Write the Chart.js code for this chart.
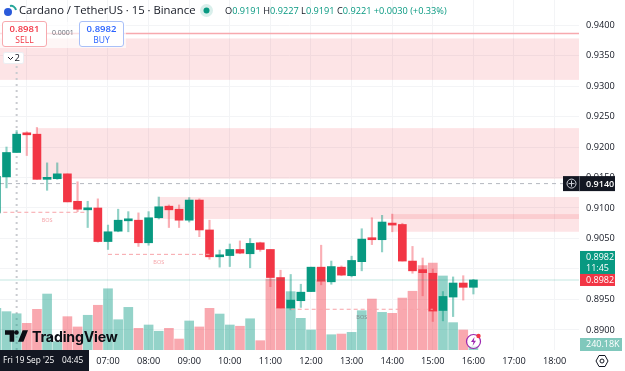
<!DOCTYPE html>
<html>
<head>
<meta charset="utf-8">
<title>Cardano / TetherUS</title>
<script src="https://cdn.jsdelivr.net/npm/chart.js@4"></script>
<style>
    html, body { margin: 0; padding: 0; background: #fff; }
    #wrap { position: relative; width: 625px; height: 371px; overflow: hidden; font-family: "Open Sans", sans-serif; color: #131722; }
    #wrap > * { position: absolute; }
    canvas { left: 0; top: 0; }
    .title { left: 19px; top: 1px; font-size: 11.3px; line-height: 17px; white-space: nowrap; }
    .ohlc { left: 225px; top: 2px; font-size: 9.2px; line-height: 17px; white-space: nowrap; }
    .ohlc b { font-weight: 400; color: #089981; }
    .panel { left: 0; top: 22px; width: 126px; height: 26px; background: rgba(255, 255, 255, 0.65); }
    .btn { top: 21px; width: 43px; height: 23px; background: #fff; border-radius: 3px; text-align: center; font-size: 8.5px; line-height: 10px; padding-top: 1px; box-sizing: content-box; }
    .btn div:first-child { font-size: 9.5px; line-height: 12px; font-weight: 600; }
    .sell { left: 2px; border: 1px solid #f7a9ae; color: #f23645; }
    .buy { left: 79px; border: 1px solid #a9c0f8; color: #2962ff; }
    .spread { left: 52px; top: 28px; font-size: 7px; line-height: 10px; color: #6a6d78; }
    .legendBtn { left: 3px; top: 52px; width: 21px; height: 12px; background: #fff; border: 1px solid #eceef2; box-sizing: border-box; border-radius: 2px; font-size: 9.5px; line-height: 10px; text-align: right; padding-right: 3px; }
    .wm { left: 32px; top: 327px; font-size: 14.2px; line-height: 20px; font-weight: 700; letter-spacing: -0.2px; color: #0c0e15; font-family: "Inter", sans-serif; }
</style>
</head>
<body>
<div id="wrap">
    <canvas id="chart" width="625" height="371"></canvas>

    <svg style="left:2px;top:3px" width="16" height="15" viewBox="0 0 16 15">
        <circle cx="6" cy="9" r="4" fill="#2a5ada"/>
        <path d="M8 3 a5 5 0 0 1 6 4" fill="none" stroke="#26a69a" stroke-width="2"/>
    </svg>
    <div class="title">Cardano / TetherUS · 15 · Binance</div>
    <svg style="left:200px;top:4px" width="13" height="13" viewBox="0 0 13 13">
        <circle cx="6.5" cy="6.5" r="6.5" fill="#d9efeb"/>
        <circle cx="6.5" cy="6.5" r="3" fill="#089981"/>
    </svg>
    <div class="ohlc">O<b>0.9191</b> H<b>0.9227</b> L<b>0.9191</b> C<b>0.9221</b> <b>+0.0030 (+0.33%)</b></div>

    <div class="panel"></div>
    <div class="btn sell"><div>0.8981</div><div>SELL</div></div>
    <div class="spread">0.0001</div>
    <div class="btn buy"><div>0.8982</div><div>BUY</div></div>
    <div class="legendBtn">2</div>
    <svg style="left:7px;top:56px" width="7" height="5" viewBox="0 0 7 5"><path d="M1 1 L3.5 3.5 L6 1" fill="none" stroke="#131722" stroke-width="1"/></svg>

    <svg style="left:5px;top:330px" width="23" height="12" viewBox="2 6 30 15">
        <path d="M14 6H2v6h6v9h6V6zm12 15h-7l6-15h7l-6 15zm-9-9a3 3 0 1 0 0-6 3 3 0 0 0 0 6z" fill="#0c0e15"/>
    </svg>
    <div class="wm">TradingView</div>

    <svg style="left:464px;top:332px" width="20" height="18" viewBox="0 0 20 18">
        <circle cx="9.5" cy="9.5" r="7" fill="#fff" fill-opacity="0.7" stroke="#9c27b0" stroke-width="1.2"/>
        <path d="M10.5 5 L7 10 H9.5 L8.5 14 L12 8.8 H9.8 Z" fill="#9c27b0"/>
        <circle cx="14.5" cy="4" r="2.2" fill="#f23645"/>
    </svg>
    <svg style="left:595px;top:354px" width="14" height="14" viewBox="0 0 14 14">
        <path d="M4 1.5 H10 L13 7 L10 12.5 H4 L1 7 Z" fill="none" stroke="#131722" stroke-width="1"/>
        <circle cx="7" cy="7" r="2" fill="none" stroke="#131722" stroke-width="1"/>
    </svg>
</div>

<script>
const times = ['04:15','04:30','04:45','05:00','05:15','05:30','05:45','06:00','06:15','06:30','06:45',
    '07:00','07:15','07:30','07:45','08:00','08:15','08:30','08:45','09:00','09:15','09:30','09:45',
    '10:00','10:15','10:30','10:45','11:00','11:15','11:30','11:45','12:00','12:15','12:30','12:45',
    '13:00','13:15','13:30','13:45','14:00','14:15','14:30','14:45','15:00','15:15','15:30','15:45','16:00'];
const opens = [0.9092,0.9151,0.9191,0.9223,0.9221,0.9147,0.9148,0.9156,0.9111,0.9097,0.9100,
    0.9045,0.9062,0.9079,0.9080,0.9043,0.9084,0.9103,0.9098,0.9080,0.9113,0.9064,0.9020,
    0.9022,0.9032,0.9025,0.9043,0.9032,0.8986,0.8936,0.8948,0.8963,0.9003,0.8979,0.9003,
    0.8989,0.9012,0.9050,0.9048,0.9075,0.9073,0.9013,0.8999,0.8993,0.8932,0.8954,0.8977,0.8970];
const highs = [0.9155,0.9200,0.9227,0.9225,0.9232,0.9174,0.9174,0.9156,0.9143,0.9111,0.9115,
    0.9072,0.9098,0.9094,0.9092,0.9094,0.9118,0.9105,0.9105,0.9117,0.9115,0.9080,0.9031,
    0.9041,0.9046,0.9050,0.9044,0.9032,0.8998,0.8991,0.8975,0.9003,0.9039,0.9013,0.9005,
    0.9021,0.9066,0.9084,0.9088,0.9090,0.9075,0.9037,0.9018,0.9000,0.8963,0.8987,0.8989,0.8983];
const lows = [0.9092,0.9133,0.9191,0.9186,0.9147,0.9129,0.9147,0.9110,0.9094,0.9068,0.9044,
    0.9032,0.9061,0.9061,0.9037,0.9039,0.9082,0.9068,0.9068,0.9077,0.9053,0.9016,0.9003,
    0.9004,0.9025,0.9002,0.9029,0.8971,0.8936,0.8933,0.8937,0.8963,0.8974,0.8975,0.8989,
    0.8987,0.8997,0.9040,0.9028,0.9061,0.9013,0.8993,0.8956,0.8914,0.8915,0.8922,0.8949,0.8959];
const closes = [0.9152,0.9191,0.9221,0.9220,0.9147,0.9148,0.9156,0.9110,0.9098,0.9100,0.9045,
    0.9061,0.9080,0.9080,0.9043,0.9084,0.9102,0.9097,0.9080,0.9113,0.9064,0.9020,0.9023,
    0.9032,0.9026,0.9042,0.9032,0.8986,0.8936,0.8949,0.8962,0.9003,0.8980,0.9004,0.8990,
    0.9014,0.9049,0.9048,0.9077,0.9072,0.9013,0.8997,0.8994,0.8931,0.8955,0.8977,0.8970,0.8982];
// volume in thousands
const volumes = [3000,2760,2610,1920,2930,4030,600,2400,1660,2500,3220,
    4410,2180,3070,1560,1800,1350,1560,790,2090,1660,3000,2590,
    1800,1710,2250,670,5110,3020,4200,2280,1440,4970,1100,1150,1270,
    2830,3670,2710,2640,3740,4230,6070,6260,5330,1970,1440,240.18];

// [from, to, low, high], times in hh:mm, 'end' runs to the right edge
const zones = [
    ['04:00', 'end', 0.9310, 0.9378],
    ['05:15', 'end', 0.9148, 0.9231],
    ['08:15', 'end', 0.9082, 0.9118],
    ['14:00', 'end', 0.9061, 0.9090]
];
// [from, to, price, label time, label colour]
const bosLines = [
    ['04:15', '06:30', 0.9093, '05:30', '#f5a3a8'],
    ['07:00', '09:30', 0.9024, '08:15', '#f5a3a8'],
    ['11:30', '15:00', 0.8934, '13:15', '#7f8a8c']
];
const topLinePrice = 0.9386;
const crossPrice = 0.9140;
const crossTime = '04:45';
const lastPrice = 0.8982;
const askLabel = '0.8982';
const countdown = '11:45';
const bidLabel = '0.8982';
const volLabel = '240.18K';
const crossDate = "Fri 19 Sep '25";

const UP = '#089981';
const DOWN = '#f23645';
const FONT = '"Open Sans", sans-serif';

function hours(t) {
    const p = t.split(':');
    return Number(p[0]) + Number(p[1]) / 60;
}
function hhmm(v) {
    return String(v).padStart(2, '0') + ':00';
}

const isUp = closes.map((c, i) => c >= opens[i]);

const overlay = {
    id: 'overlay',
    beforeDatasetsDraw(chart) {
        const c = chart.ctx, x = chart.scales.x, y = chart.scales.y, a = chart.chartArea;
        c.save();
        // supply / demand zones
        c.fillStyle = 'rgba(242, 54, 69, 0.135)';
        zones.forEach(z => {
            const x0 = Math.max(x.getPixelForValue(hours(z[0])), a.left);
            const x1 = z[1] === 'end' ? a.right : x.getPixelForValue(hours(z[1]));
            const y0 = y.getPixelForValue(z[3]), y1 = y.getPixelForValue(z[2]);
            c.fillRect(x0, y0, x1 - x0, y1 - y0);
        });

        // crosshair sits under the candles
        c.strokeStyle = '#b4b7bf';
        c.lineWidth = 1;
        c.setLineDash([4, 4]);
        c.beginPath();
        c.moveTo(a.left, y.getPixelForValue(crossPrice));
        c.lineTo(a.right, y.getPixelForValue(crossPrice));
        c.stroke();
        c.strokeStyle = '#c9cbd0';
        c.lineWidth = 2;
        c.setLineDash([2, 4]);
        c.beginPath();
        c.moveTo(x.getPixelForValue(hours(crossTime)), 66);
        c.lineTo(x.getPixelForValue(hours(crossTime)), a.bottom);
        c.stroke();
        c.setLineDash([]);
        c.restore();
    },
    afterDatasetsDraw(chart) {
        const c = chart.ctx, x = chart.scales.x, y = chart.scales.y, a = chart.chartArea;
        c.save();
        c.beginPath();
        c.rect(a.left, a.top, a.right - a.left, a.bottom - a.top);
        c.clip();

        // top red level
        c.strokeStyle = '#f7a9ae';
        c.lineWidth = 1.5;
        c.beginPath();
        c.moveTo(a.left, y.getPixelForValue(topLinePrice));
        c.lineTo(a.right, y.getPixelForValue(topLinePrice));
        c.stroke();

        // last price line
        c.strokeStyle = 'rgba(8, 153, 129, 0.16)';
        c.lineWidth = 1.5;
        c.beginPath();
        c.moveTo(a.left, y.getPixelForValue(lastPrice));
        c.lineTo(a.right, y.getPixelForValue(lastPrice));
        c.stroke();

        // BOS lines and labels
        bosLines.forEach(b => {
            const py = y.getPixelForValue(b[2]);
            c.strokeStyle = '#f7a3a8';
            c.lineWidth = 1;
            c.setLineDash([4, 3]);
            c.beginPath();
            c.moveTo(x.getPixelForValue(hours(b[0])), py);
            c.lineTo(x.getPixelForValue(hours(b[1])), py);
            c.stroke();
            c.setLineDash([]);
            c.fillStyle = b[4];
            c.font = '5.5px ' + FONT;
            c.textAlign = 'center';
            c.textBaseline = 'middle';
            c.fillText('BOS', x.getPixelForValue(hours(b[3])), py + 8);
        });
        c.restore();
    },
    afterDraw(chart) {
        const c = chart.ctx, y = chart.scales.y, a = chart.chartArea;
        c.save();
        c.textBaseline = 'middle';

        // crosshair price tag
        const cy = y.getPixelForValue(crossPrice);
        c.fillStyle = '#131722';
        c.fillRect(563, cy - 7.5, 52, 15);
        c.strokeStyle = '#5d606b';
        c.lineWidth = 1;
        c.beginPath();
        c.moveTo(579.5, cy - 7.5);
        c.lineTo(579.5, cy + 7.5);
        c.stroke();
        c.strokeStyle = '#d1d4dc';
        c.beginPath();
        c.arc(571.5, cy, 4.5, 0, Math.PI * 2);
        c.moveTo(571.5, cy - 3);
        c.lineTo(571.5, cy + 3);
        c.moveTo(568.5, cy);
        c.lineTo(574.5, cy);
        c.stroke();
        c.fillStyle = '#fff';
        c.font = '600 9px ' + FONT;
        c.textAlign = 'left';
        c.fillText(crossPrice.toFixed(4), 586, cy + 0.5);

        // last price tags
        const ly = y.getPixelForValue(lastPrice);
        c.fillStyle = UP;
        c.fillRect(580, ly - 29, 35, 23);
        c.fillStyle = DOWN;
        c.fillRect(580, ly - 6, 35, 12);
        c.fillStyle = '#fff';
        c.font = '9px ' + FONT;
        c.fillText(askLabel, 586, ly - 23);
        c.fillText(countdown, 586, ly - 12);
        c.fillText(bidLabel, 586, ly + 0.5);

        // volume tag
        c.fillStyle = '#80c8bc';
        c.fillRect(580, 338, 42, 13);
        c.fillStyle = '#fff';
        c.fillText(volLabel, 586, 344.5);

        // crosshair time tag
        c.fillStyle = '#131722';
        c.fillRect(0, a.bottom, 89, 21);
        c.fillStyle = '#fff';
        c.font = '8.3px ' + FONT;
        c.fillText(crossDate, 3, 361);
        c.fillText(crossTime, 62, 361);
        c.restore();
    }
};

new Chart(document.getElementById('chart').getContext('2d'), {
    type: 'bar',
    data: {
        datasets: [{
            label: 'Volume',
            yAxisID: 'v',
            order: 3,
            data: times.map((t, i) => ({ x: hours(t), y: volumes[i] })),
            backgroundColor: isUp.map(u => u ? 'rgba(8, 153, 129, 0.43)' : 'rgba(242, 54, 69, 0.43)'),
            barThickness: 9,
            grouped: false
        }, {
            label: 'Wick',
            yAxisID: 'y',
            order: 2,
            data: times.map((t, i) => ({ x: hours(t), y: [lows[i], highs[i]] })),
            backgroundColor: isUp.map(u => u ? 'rgba(8, 153, 129, 0.45)' : 'rgba(242, 54, 69, 0.4)'),
            barThickness: 1.5,
            grouped: false
        }, {
            label: 'Body',
            yAxisID: 'y',
            order: 1,
            data: times.map((t, i) => ({ x: hours(t), y: [opens[i], closes[i]] })),
            backgroundColor: isUp.map(u => u ? UP : DOWN),
            barThickness: 8,
            minBarLength: 2,
            grouped: false
        }]
    },
    options: {
        responsive: false,
        animation: false,
        layout: { padding: 0 },
        plugins: { legend: { display: false }, tooltip: { enabled: false } },
        scales: {
            x: {
                type: 'linear',
                offset: false,
                min: 4.3399,
                max: 18.601,
                border: { display: false },
                grid: { color: '#f3f4f6', drawTicks: false, offset: false },
                ticks: {
                    stepSize: 1,
                    includeBounds: false,
                    maxRotation: 0,
                    autoSkip: false,
                    padding: 6,
                    color: '#131722',
                    font: { family: FONT, size: 9.2 },
                    callback: hhmm
                },
                afterFit(s) { s.height = 21; s.paddingLeft = 0; s.paddingRight = 0; }
            },
            y: {
                position: 'right',
                min: 0.88672,
                max: 0.9441,
                border: { display: false },
                grid: { color: '#f3f4f6', drawTicks: false },
                ticks: {
                    stepSize: 0.005,
                    includeBounds: false,
                    padding: 7,
                    color: '#131722',
                    font: { family: FONT, size: 9.2 },
                    callback: v => v.toFixed(4)
                },
                afterFit(s) { s.width = 46; s.paddingTop = 0; s.paddingBottom = 0; }
            },
            v: {
                display: false,
                position: 'right',
                min: 0,
                max: 25200
            }
        }
    },
    plugins: [overlay]
});
</script>
</body>
</html>
